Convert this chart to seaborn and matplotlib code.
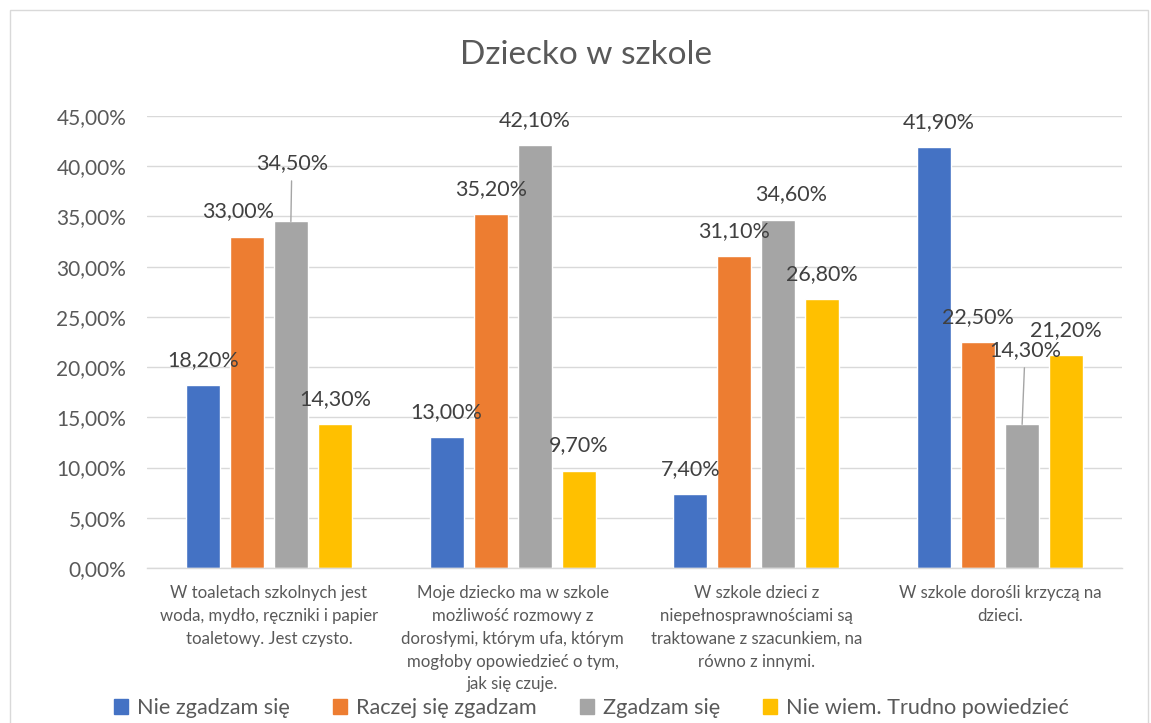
import matplotlib
matplotlib.use("Agg")
import matplotlib.pyplot as plt
import seaborn as sns
import pandas as pd
from matplotlib.patches import Rectangle
from matplotlib.ticker import FuncFormatter, MultipleLocator

# ---- data ----
categories = [
    "W toaletach szkolnych jest\nwoda, mydło, ręczniki i papier\ntoaletowy. Jest czysto.",
    "Moje dziecko ma w szkole\nmożliwość rozmowy z\ndorosłymi, którym ufa, którym\nmogłoby opowiedzieć o tym,\njak się czuje.",
    "W szkole dzieci z\nniepełnosprawnościami są\ntraktowane z szacunkiem, na\nrówno z innymi.",
    "W szkole dorośli krzyczą na\ndzieci.",
]
series_names = ["Nie zgadzam się", "Raczej się zgadzam", "Zgadzam się", "Nie wiem. Trudno powiedzieć"]
nie_zgadzam = [0.182, 0.130, 0.074, 0.419]
raczej_zgadzam = [0.330, 0.352, 0.311, 0.225]
zgadzam = [0.345, 0.421, 0.346, 0.143]
nie_wiem = [0.143, 0.097, 0.268, 0.212]
colors = ["#4472C4", "#ED7D31", "#A5A5A5", "#FFC000"]
title = "Dziecko w szkole"

series_values = [nie_zgadzam, raczej_zgadzam, zgadzam, nie_wiem]
rows = []
for name, vals in zip(series_names, series_values):
    for cat, v in zip(categories, vals):
        rows.append({"kategoria": cat, "odpowiedz": name, "wartosc": v})
df = pd.DataFrame(rows)

# ---- style ----
sns.set_theme(style="white")
FONT = ["Lato", "DejaVu Sans"]
plt.rcParams["font.family"] = FONT
TXT = "#595959"

fig = plt.figure(figsize=(11.51, 7.23), dpi=100)
ax = fig.add_axes([147 / 1151, 1 - 568 / 723, (1122 - 147) / 1151, (568 - 116) / 723])

sns.barplot(data=df, x="kategoria", y="wartosc", hue="odpowiedz",
            order=categories, hue_order=series_names, palette=colors,
            width=0.722, gap=0.227, saturation=1, ax=ax, legend=False)

ax.set_ylim(0, 0.45)
ax.yaxis.set_major_locator(MultipleLocator(0.05))
ax.yaxis.set_major_formatter(FuncFormatter(lambda v, p: f"{v*100:.2f}%".replace(".", ",")))
ax.grid(axis="y", color="#D9D9D9", linewidth=1.0)
ax.set_axisbelow(True)
for s in ["left", "right", "top"]:
    ax.spines[s].set_visible(False)
ax.spines["bottom"].set_color("#D9D9D9")
ax.spines["bottom"].set_linewidth(1.0)
ax.set_xlabel("")
ax.set_ylabel("")
ax.tick_params(axis="y", length=0, pad=15, labelsize=15, labelcolor=TXT)
ax.tick_params(axis="x", length=0, pad=12.5, labelsize=12.1, labelcolor=TXT)
ax.set_xticks(range(len(categories)))
ax.set_xticklabels(categories, linespacing=1.52, va="top", ha="center")

# ---- data labels ----
# offsets (pixels) of label center from bar top-center; leader flags
offsets = {
    (0, 1): (-9, 25), (0, 2): (1, 58),
    (2, 2): (13, 26), (3, 0): (5, 25), (3, 2): (3, 74),
}
leaders = {(0, 2), (3, 2)}
for si, cont in enumerate(ax.containers):
    for ci, bar in enumerate(cont):
        h = bar.get_height()
        xc = bar.get_x() + bar.get_width() / 2
        dx, dy = offsets.get((ci, si), (0, 25))
        label = f"{h*100:.2f}%".replace(".", ",")
        kw = {}
        if (ci, si) in leaders:
            kw["arrowprops"] = dict(arrowstyle="-", color="#A5A5A5", lw=1.0,
                                    shrinkA=3, shrinkB=0)
        ax.annotate(label, xy=(xc, h), xytext=(dx * 0.72, dy * 0.72),
                    textcoords="offset points", ha="center", va="center",
                    fontsize=15.5, color="#404040", annotation_clip=False, **kw)

# ---- title ----
fig.text(0.509, 1 - 55 / 723, title, ha="center", va="center",
         fontsize=24, color=TXT)

# ---- legend ----
handles = [Rectangle((0, 0), 1, 1, color=c) for c in colors]
leg = fig.legend(handles, series_names, loc="center", ncol=4,
                 bbox_to_anchor=(0.514, 1 - 708 / 723), frameon=False,
                 fontsize=15.6, handlelength=0.65, handleheight=0.65,
                 handletextpad=0.4, columnspacing=2.0)
for t in leg.get_texts():
    t.set_color(TXT)

# ---- chart border ----
fig.add_artist(Rectangle((10 / 1151, -0.05), (1148 - 10) / 1151, 1.05 - 10 / 723,
                         transform=fig.transFigure, fill=False,
                         edgecolor="#D9D9D9", linewidth=1.0))

fig.savefig("out.png", dpi=100)
